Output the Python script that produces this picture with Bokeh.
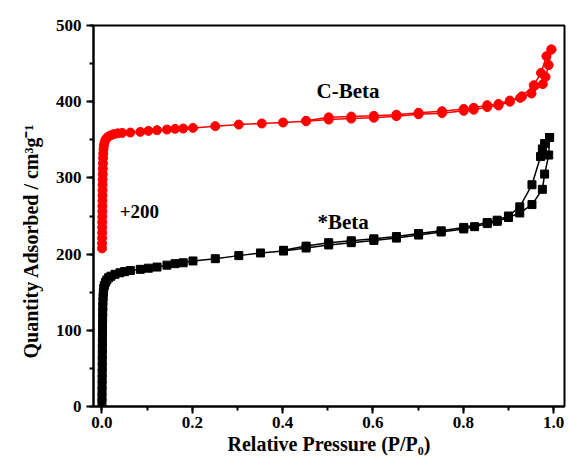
from bokeh.plotting import figure
from bokeh.models import Label, SingleIntervalTicker, NumeralTickFormatter
from bokeh.embed import file_html
from bokeh.resources import INLINE

# ---- data ----
# *Beta adsorption branch
beta_ads_x = [0.0001, 0.0002, 0.0003, 0.0004, 0.0005, 0.0006, 0.0007, 0.0008, 0.0009, 0.0010,
              0.0011, 0.0012, 0.0013, 0.0014, 0.0016, 0.0018, 0.0020, 0.0023, 0.0027, 0.0032,
              0.0040, 0.0055, 0.0080, 0.0110, 0.0150, 0.0200, 0.0290, 0.0400, 0.0500, 0.0630,
              0.0850, 0.1030, 0.1220, 0.1440, 0.1620, 0.1800, 0.2016, 0.2510, 0.3030, 0.3510,
              0.4020, 0.4520, 0.5020, 0.5520, 0.6020, 0.6520, 0.7010, 0.7510, 0.8010, 0.8250,
              0.8530, 0.8750, 0.9000, 0.9250, 0.9520, 0.9750, 0.9800, 0.9890, 0.9910]
beta_ads_y = [5, 12, 20, 28, 36, 44, 52, 60, 68, 76,
              84, 92, 100, 108, 116, 124, 131, 138, 144, 150,
              155, 159, 163, 166, 169, 171, 173.5, 175.5, 177, 178.5,
              180, 181.5, 183, 185.5, 187.5, 188.6, 191, 194, 198, 201.5,
              204, 208, 212, 215, 218, 221, 225, 229, 233, 236,
              240, 243, 248, 254, 265, 285, 305, 330, 353]
# *Beta desorption branch
beta_des_x = [0.9910, 0.9800, 0.9750, 0.9710, 0.9520, 0.9250, 0.9000, 0.8750, 0.8530, 0.8010,
              0.7510, 0.7010, 0.6520, 0.6020, 0.5520, 0.5020, 0.4520, 0.4020]
beta_des_y = [353, 345, 338, 328, 291, 262, 250, 244.5, 241.5, 235,
              230.5, 227, 223, 220, 217.5, 215, 210.5, 205]

# C-Beta (+200) adsorption branch
cbeta_ads_x = [0.0003, 0.0004, 0.0005, 0.0006, 0.0007, 0.0008, 0.0009, 0.0010, 0.0011, 0.0012,
               0.0013, 0.0014, 0.0015, 0.0016, 0.0018, 0.0020, 0.0023, 0.0026, 0.0030, 0.0036,
               0.0045, 0.0060, 0.0080, 0.0110, 0.0150, 0.0200, 0.0270, 0.0350, 0.0450, 0.0630,
               0.0850, 0.1030, 0.1220, 0.1440, 0.1620, 0.1800, 0.2016, 0.2510, 0.3030, 0.3540,
               0.4010, 0.4520, 0.5020, 0.5520, 0.6020, 0.6520, 0.7010, 0.7530, 0.8010, 0.8230,
               0.8530, 0.8780, 0.9030, 0.9260, 0.9510, 0.9760, 0.9820, 0.9890, 0.9950]
cbeta_ads_y = [207.5, 214, 221, 228, 235, 242, 249, 256, 263, 270,
               277, 284, 291, 298, 305, 312, 319, 326, 332, 338,
               343, 347, 350, 352.5, 354.5, 356, 357.5, 358.5, 359, 359.5,
               360.4, 361.7, 362.6, 363.5, 364.4, 364.8, 365.6, 367.9, 370, 371.4,
               372.7, 374.4, 376.5, 377.8, 379, 381, 383.5, 385, 388, 389.5,
               393, 395, 400, 405, 410.7, 423, 432.5, 448, 468.5]
# C-Beta (+200) desorption branch
cbeta_des_x = [0.9950, 0.9840, 0.9720, 0.9560, 0.9300, 0.9030, 0.8780, 0.8530, 0.8230, 0.8010,
               0.7530, 0.7010, 0.6520, 0.6020, 0.5520, 0.5020, 0.4520]
cbeta_des_y = [468.5, 459.7, 437.8, 421.6, 407, 401.5, 397, 395.5, 392, 390.5,
               387.5, 385.5, 383, 381.5, 380.5, 379.5, 375]

SERIF = "Liberation Serif"

p = figure(width=568, height=459, x_range=(-0.0186, 1.024), y_range=(0, 500),
           output_backend="svg", toolbar_location=None,
           min_border_left=93, min_border_right=4, min_border_top=25, min_border_bottom=53)
p.background_fill_color = "white"
p.border_fill_color = "white"
p.xgrid.visible = False
p.ygrid.visible = False
p.outline_line_color = "black"
p.outline_line_width = 2

p.xaxis.ticker = SingleIntervalTicker(interval=0.2, num_minor_ticks=2)
p.yaxis.ticker = SingleIntervalTicker(interval=100, num_minor_ticks=2)
p.xaxis.formatter = NumeralTickFormatter(format="0.0")

for ax in (p.xaxis, p.yaxis):
    ax.axis_line_width = 2
    ax.axis_line_color = "black"
    ax.major_tick_line_width = 2
    ax.minor_tick_line_width = 2
    ax.major_tick_out = 7
    ax.major_tick_in = 0
    ax.minor_tick_out = 4
    ax.minor_tick_in = 0
    ax.major_label_text_font = SERIF
    ax.major_label_text_font_style = "bold"
    ax.major_label_text_font_size = "17px"
    ax.major_label_text_color = "black"
    ax.axis_label_text_font = SERIF
    ax.axis_label_text_font_style = "bold"
    ax.axis_label_text_font_size = "20px"
    ax.axis_label_text_color = "black"

p.xaxis.major_label_standoff = 3
p.yaxis.major_label_standoff = 5
p.xaxis.axis_label = "Relative Pressure (P/P\u2080)"
p.xaxis.axis_label_standoff = 2
# trailing no-break spaces shift the visible label down, as in the reference
p.yaxis.axis_label = "Quantity Adsorbed / cm\u00b3g\u207b\u00b9" + "\u00a0" * 10
p.yaxis.axis_label_standoff = 11

# Beta
p.line(beta_ads_x, beta_ads_y, line_color="black", line_width=1.5)
p.line(beta_des_x, beta_des_y, line_color="black", line_width=1.5)
p.scatter(beta_ads_x, beta_ads_y, marker="square", size=8, fill_color="black", line_color="black")
p.scatter(beta_des_x, beta_des_y, marker="square", size=8, fill_color="black", line_color="black")

# C-Beta
p.line(cbeta_ads_x, cbeta_ads_y, line_color="red", line_width=1.5)
p.line(cbeta_des_x, cbeta_des_y, line_color="red", line_width=1.5)
p.scatter(cbeta_ads_x, cbeta_ads_y, marker="circle", size=9, fill_color="red", line_color="red")
p.scatter(cbeta_des_x, cbeta_des_y, marker="circle", size=9, fill_color="red", line_color="red")

def lab(x, y, text, size):
    p.add_layout(Label(x=x, y=y, text=text, text_font=SERIF, text_font_style="bold",
                       text_font_size=size, text_color="black", text_align="center",
                       text_baseline="middle"))

lab(0.545, 414, "C-Beta", "21px")
lab(0.534, 241.6, "*Beta", "21px")
lab(0.083, 255.5, "+200", "19px")

open("out.html", "w").write(file_html(p, INLINE))
